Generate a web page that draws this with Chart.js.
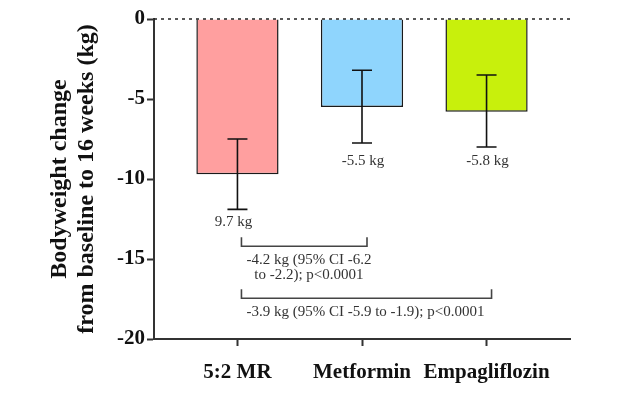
<!DOCTYPE html>
<html>
<head>
<meta charset="utf-8">
<script src="https://cdn.jsdelivr.net/npm/chart.js@4"></script>
<style>
 html,body{margin:0;padding:0;background:#fff;}
 #wrap{width:640px;height:395px;}
</style>
</head>
<body>
<div id="wrap"><canvas id="chart" width="640" height="395"></canvas></div>
<script>
const categories=["5:2 MR","Metformin","Empagliflozin"];
const meanChange=[-9.7,-5.5,-5.8];
const errHigh=[-7.5,-3.2,-3.5];
const errLow=[-11.9,-7.75,-8.0];
const valueLabels=["9.7 kg","-5.5 kg","-5.8 kg"];
const barColors=["#ff9f9f","#8fd5fd","#c8f00c"];
const yTicks=[0,-5,-10,-15,-20];

const compFrom=[0,0];
const compTo=[1,2];
const compY=[-14.2,-17.45];
const compText=[
 ["-4.2 kg (95% CI -6.2","to -2.2); p<0.0001"],
 ["-3.9 kg (95% CI -5.9 to -1.9); p<0.0001"]
];

const serif="'Liberation Serif','Times New Roman',serif";

const extras={
 id:"extras",
 afterDatasetsDraw(chart){
  const {ctx,chartArea,scales:{x,y}}=chart;
  ctx.save();

  // dotted zero line
  ctx.strokeStyle="#222";
  ctx.lineWidth=1.3;
  ctx.setLineDash([3,4]);
  ctx.beginPath();
  ctx.moveTo(chartArea.left,y.getPixelForValue(0));
  ctx.lineTo(chartArea.right+2,y.getPixelForValue(0));
  ctx.stroke();
  ctx.setLineDash([]);

  // error bars
  ctx.strokeStyle="#111";
  ctx.lineWidth=1.6;
  meanChange.forEach((v,i)=>{
   const px=x.getPixelForValue(i);
   const hi=y.getPixelForValue(errHigh[i]);
   const lo=y.getPixelForValue(errLow[i]);
   ctx.beginPath();
   ctx.moveTo(px,hi);ctx.lineTo(px,lo);
   ctx.moveTo(px-10,hi);ctx.lineTo(px+10,hi);
   ctx.moveTo(px-10,lo);ctx.lineTo(px+10,lo);
   ctx.stroke();
  });

  // value labels
  const offs=[13,18,14];
  ctx.fillStyle="#333";
  ctx.font="15px "+serif;
  ctx.textAlign="center";
  ctx.textBaseline="middle";
  valueLabels.forEach((t,i)=>{
   ctx.fillText(t,x.getPixelForValue(i)+(i==0?-4:1),y.getPixelForValue(errLow[i])+offs[i]);
  });

  // comparison brackets
  ctx.strokeStyle="#444";
  ctx.lineWidth=1.6;
  compY.forEach((cy,k)=>{
   const x1=x.getPixelForValue(compFrom[k])+4;
   const x2=x.getPixelForValue(compTo[k])+5;
   const py=y.getPixelForValue(cy);
   ctx.beginPath();
   ctx.moveTo(x1,py-9);ctx.lineTo(x1,py);ctx.lineTo(x2,py);ctx.lineTo(x2,py-9);
   ctx.stroke();
   const w=Math.max(...compText[k].map(l=>ctx.measureText(l).width));
   const cx=x1+5+w/2;
   compText[k].forEach((l,j)=>{
    ctx.fillText(l,cx,py+14+j*15);
   });
  });
  ctx.restore();
 }
};

new Chart(document.getElementById("chart"),{
 type:"bar",
 data:{
  datasets:[{
   data:meanChange.map((v,i)=>({x:i,y:v})),
   backgroundColor:barColors,
   borderColor:"#1a1a1a",
   borderWidth:1.5,
   categoryPercentage:1,
   barPercentage:0.66
  }]
 },
 options:{
  responsive:false,
  animation:false,
  layout:{padding:{left:0,right:70,top:19,bottom:0}},
  plugins:{legend:{display:false},tooltip:{enabled:false}},
  scales:{
   x:{
    type:"linear",
    min:-0.67,
    max:2.67,
    offset:false,
    afterBuildTicks:s=>{s.ticks=categories.map((c,i)=>({value:i}));},
    afterFit:s=>{s.height=56;},
    ticks:{
     callback:v=>categories[v],
     color:"#111",
     padding:14,
     maxRotation:0,
     font:{family:serif,size:21,weight:"bold"}
    },
    grid:{display:true,offset:false,drawOnChartArea:false,drawTicks:true,tickLength:7,tickColor:"#333",tickWidth:2},
    border:{color:"#333",width:2}
   },
   y:{
    min:-20,
    max:0,
    afterBuildTicks:s=>{s.ticks=yTicks.map(v=>({value:v}));},
    afterFit:s=>{s.width=154;},
    ticks:{
     color:"#111",
     padding:2,
     font:{family:serif,size:21,weight:"bold"}
    },
    grid:{display:true,drawOnChartArea:false,drawTicks:true,tickLength:7,tickColor:"#333",tickWidth:2},
    border:{color:"#333",width:2},
    title:{
     display:true,
     text:["Bodyweight change","from baseline to 16 weeks (kg)"],
     color:"#111",
     padding:{top:46,bottom:0},
     font:{family:serif,size:24,weight:"bold",lineHeight:1.13}
    }
   }
  }
 },
 plugins:[extras]
});
</script>
</body>
</html>
